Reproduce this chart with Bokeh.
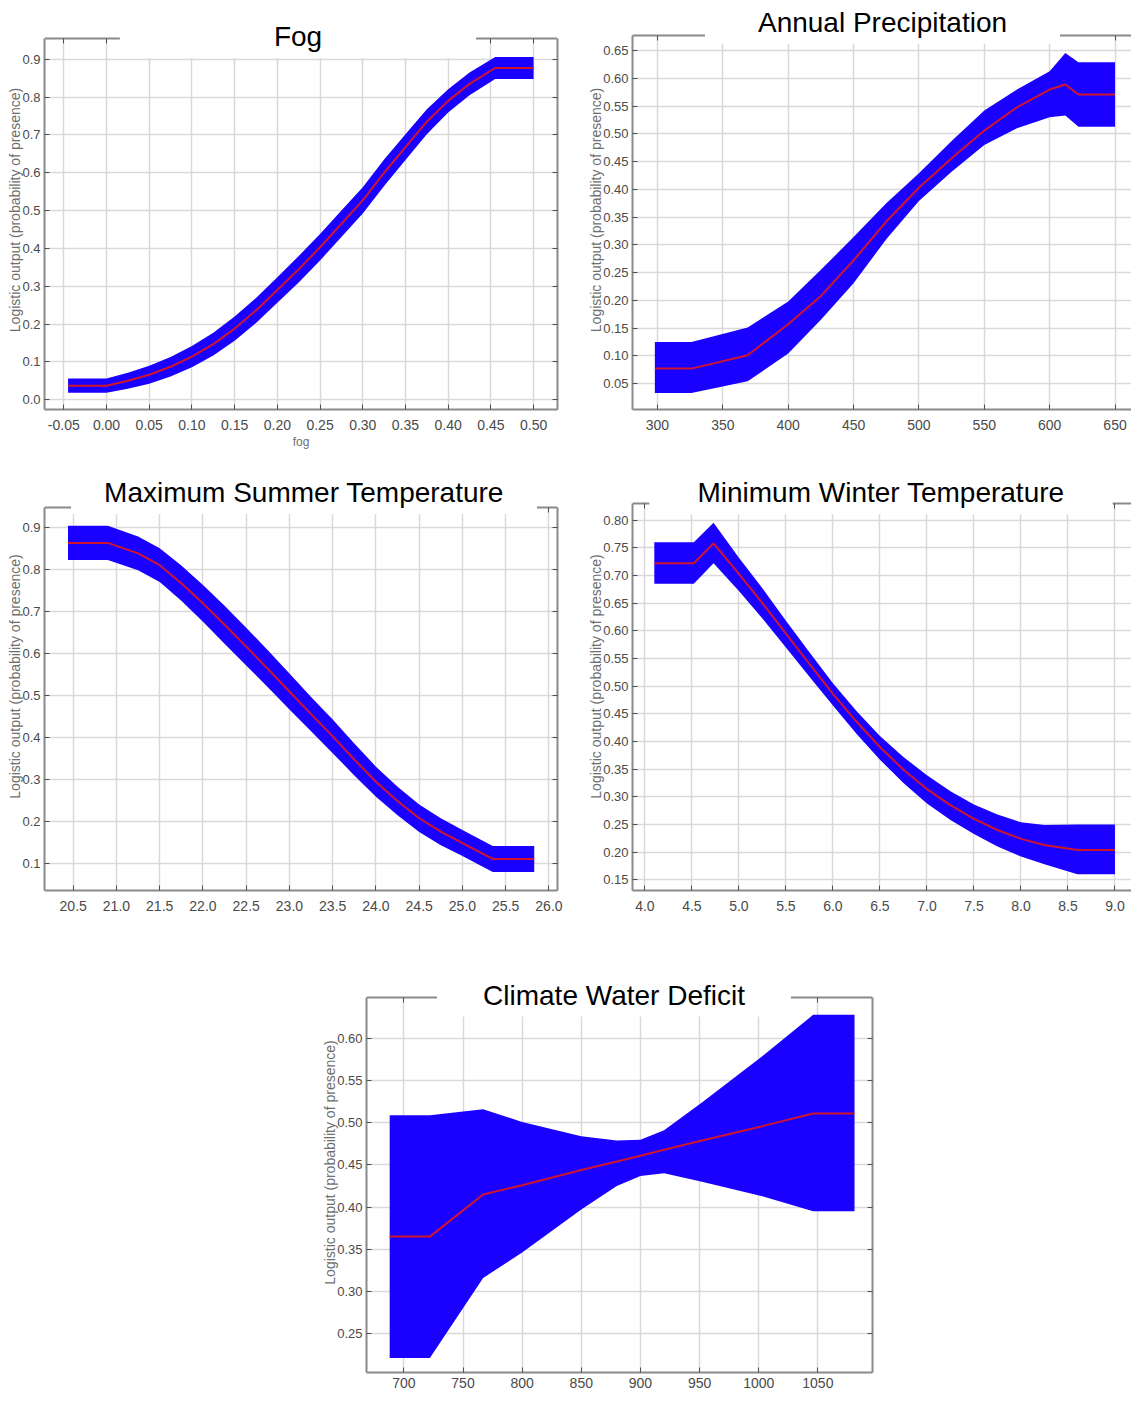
from bokeh.plotting import figure
from bokeh.models import LinearAxis, FixedTicker, CustomJSTickFormatter, Label, Range1d, Spacer
from bokeh.layouts import row, column
from bokeh.embed import file_html
from bokeh.resources import INLINE

# ---------------- data ----------------
fog_x = [-0.045, 0.0, 0.025, 0.05, 0.075, 0.10, 0.125, 0.15, 0.175, 0.20, 0.225,
         0.25, 0.275, 0.30, 0.325, 0.35, 0.375, 0.40, 0.425, 0.455, 0.50]
fog_mean = [0.037, 0.037, 0.050, 0.066, 0.087, 0.114, 0.147, 0.188, 0.236, 0.290, 0.345,
            0.403, 0.465, 0.527, 0.600, 0.668, 0.735, 0.790, 0.835, 0.877, 0.877]
fog_upper = [0.056, 0.056, 0.071, 0.090, 0.113, 0.142, 0.177, 0.220, 0.269, 0.324, 0.380,
             0.438, 0.500, 0.562, 0.635, 0.702, 0.768, 0.821, 0.865, 0.906, 0.906]
fog_lower = [0.018, 0.018, 0.029, 0.042, 0.061, 0.086, 0.117, 0.156, 0.203, 0.256, 0.310,
             0.368, 0.430, 0.492, 0.565, 0.634, 0.702, 0.759, 0.805, 0.848, 0.848]
fog_xticks = [-0.05, 0.0, 0.05, 0.10, 0.15, 0.20, 0.25, 0.30, 0.35, 0.40, 0.45, 0.50]
fog_xlabels = ["-0.05", "0.00", "0.05", "0.10", "0.15", "0.20", "0.25", "0.30", "0.35", "0.40", "0.45", "0.50"]
fog_yticks = [0.0, 0.1, 0.2, 0.3, 0.4, 0.5, 0.6, 0.7, 0.8, 0.9]
fog_ylabels = ["0.0", "0.1", "0.2", "0.3", "0.4", "0.5", "0.6", "0.7", "0.8", "0.9"]

ap_x = [298, 326, 369, 400, 425, 450, 475, 500, 525, 550, 575, 600, 612, 622, 650]
ap_mean = [0.077, 0.077, 0.101, 0.157, 0.208, 0.272, 0.342, 0.403, 0.456, 0.506, 0.548, 0.580, 0.589, 0.571, 0.571]
ap_upper = [0.125, 0.125, 0.151, 0.198, 0.255, 0.314, 0.375, 0.429, 0.487, 0.542, 0.580, 0.613, 0.646, 0.629, 0.629]
ap_lower = [0.033, 0.033, 0.054, 0.104, 0.165, 0.231, 0.310, 0.379, 0.432, 0.480, 0.510, 0.530, 0.533, 0.513, 0.513]
ap_xticks = [300, 350, 400, 450, 500, 550, 600, 650]
ap_xlabels = ["300", "350", "400", "450", "500", "550", "600", "650"]
ap_yticks = [0.05, 0.10, 0.15, 0.20, 0.25, 0.30, 0.35, 0.40, 0.45, 0.50, 0.55, 0.60, 0.65]
ap_ylabels = ["0.05", "0.10", "0.15", "0.20", "0.25", "0.30", "0.35", "0.40", "0.45", "0.50", "0.55", "0.60", "0.65"]

ms_x = [20.44, 20.9, 21.25, 21.5, 21.75, 22.0, 22.25, 22.5, 22.75, 23.0, 23.25, 23.5,
        23.75, 24.0, 24.25, 24.5, 24.75, 25.0, 25.35, 25.83]
ms_mean = [0.863, 0.863, 0.838, 0.810, 0.767, 0.719, 0.668, 0.616, 0.563, 0.509, 0.455, 0.402,
           0.347, 0.294, 0.248, 0.207, 0.175, 0.148, 0.110, 0.110]
ms_upper = [0.904, 0.904, 0.878, 0.850, 0.809, 0.763, 0.713, 0.661, 0.607, 0.552, 0.496, 0.442,
            0.385, 0.330, 0.282, 0.240, 0.207, 0.179, 0.141, 0.141]
ms_lower = [0.822, 0.822, 0.798, 0.770, 0.725, 0.675, 0.623, 0.571, 0.519, 0.466, 0.414, 0.362,
            0.309, 0.258, 0.214, 0.174, 0.143, 0.117, 0.079, 0.079]
ms_xticks = [20.5, 21.0, 21.5, 22.0, 22.5, 23.0, 23.5, 24.0, 24.5, 25.0, 25.5, 26.0]
ms_xlabels = ["20.5", "21.0", "21.5", "22.0", "22.5", "23.0", "23.5", "24.0", "24.5", "25.0", "25.5", "26.0"]
ms_yticks = [0.1, 0.2, 0.3, 0.4, 0.5, 0.6, 0.7, 0.8, 0.9]
ms_ylabels = ["0.1", "0.2", "0.3", "0.4", "0.5", "0.6", "0.7", "0.8", "0.9"]

mw_x = [4.10, 4.52, 4.73, 5.0, 5.25, 5.5, 5.75, 6.0, 6.25, 6.5, 6.75, 7.0, 7.25, 7.5,
        7.75, 8.0, 8.25, 8.6, 9.0]
mw_mean = [0.722, 0.722, 0.758, 0.703, 0.650, 0.595, 0.540, 0.486, 0.436, 0.390, 0.349, 0.314,
           0.285, 0.260, 0.240, 0.224, 0.213, 0.204, 0.204]
mw_upper = [0.760, 0.760, 0.795, 0.732, 0.677, 0.618, 0.561, 0.505, 0.455, 0.410, 0.372, 0.339,
            0.310, 0.286, 0.268, 0.254, 0.249, 0.250, 0.250]
mw_lower = [0.685, 0.685, 0.722, 0.672, 0.622, 0.570, 0.517, 0.465, 0.414, 0.367, 0.325, 0.288,
            0.258, 0.233, 0.210, 0.192, 0.178, 0.160, 0.160]
mw_xticks = [4.0, 4.5, 5.0, 5.5, 6.0, 6.5, 7.0, 7.5, 8.0, 8.5, 9.0]
mw_xlabels = ["4.0", "4.5", "5.0", "5.5", "6.0", "6.5", "7.0", "7.5", "8.0", "8.5", "9.0"]
mw_yticks = [0.15, 0.20, 0.25, 0.30, 0.35, 0.40, 0.45, 0.50, 0.55, 0.60, 0.65, 0.70, 0.75, 0.80]
mw_ylabels = ["0.15", "0.20", "0.25", "0.30", "0.35", "0.40", "0.45", "0.50", "0.55", "0.60",
              "0.65", "0.70", "0.75", "0.80"]

cwd_x = [688, 722, 767, 800, 850, 880, 900, 920, 952, 1003, 1046, 1081]
cwd_mean = [0.365, 0.365, 0.415, 0.426, 0.444, 0.454, 0.461, 0.468, 0.479, 0.496, 0.511, 0.511]
cwd_upper = [0.509, 0.509, 0.516, 0.501, 0.484, 0.479, 0.480, 0.491, 0.524, 0.579, 0.628, 0.628]
cwd_lower = [0.221, 0.221, 0.316, 0.346, 0.397, 0.425, 0.437, 0.440, 0.430, 0.413, 0.395, 0.395]
cwd_xticks = [700, 750, 800, 850, 900, 950, 1000, 1050]
cwd_xlabels = ["700", "750", "800", "850", "900", "950", "1000", "1050"]
cwd_yticks = [0.25, 0.30, 0.35, 0.40, 0.45, 0.50, 0.55, 0.60]
cwd_ylabels = ["0.25", "0.30", "0.35", "0.40", "0.45", "0.50", "0.55", "0.60"]

Y_LABEL = "Logistic output (probability of presence)"

# ---------------- styling ----------------
BAND = "#1a00ff"
LINE = "#d0142c"
AXIS = "#8a8a8a"
GRID = "#d9d9d9"
TICKC = "#505050"
TICK_FONT = "Liberation Sans"
TITLE_FONT = "Liberation Sans"


def fmt(vals, labs):
    return CustomJSTickFormatter(args=dict(vals=vals, labs=labs), code="""
        for (let i = 0; i < vals.length; i++) {
            if (Math.abs(vals[i] - tick) < 1e-9) { return labs[i]; }
        }
        return "";
    """)


def panel(s):
    # page-pixel layout of this panel
    bl = s["fl"] - s["ox"]
    br = s["ox"] + s["w"] - s["fr"]
    bb = s["oy"] + s["h"] - s["fb"]
    bt = s["ft"] - s["oy"]
    y0, y1 = s["yr"]                       # data values at frame bottom / visual top border
    upp = (y1 - y0) / (s["fb"] - s["yb"])  # data units per pixel
    y_end = y1 + (s["yb"] - s["ft"]) * upp
    x0, x1 = s["xr"]

    p = figure(width=s["w"], height=s["h"], title=None,
               x_range=Range1d(x0, x1), y_range=Range1d(y0, y_end),
               output_backend="svg", toolbar_location=None,
               min_border_left=bl, min_border_right=br,
               min_border_top=bt, min_border_bottom=bb)
    p.outline_line_color = None
    p.background_fill_color = "white"
    p.border_fill_color = "white"

    xt = FixedTicker(ticks=s["xticks"])
    yt = FixedTicker(ticks=s["yticks"])

    def style(ax, size):
        ax.axis_line_color = AXIS
        ax.axis_line_width = 2
        ax.major_tick_line_color = TICKC
        ax.major_tick_in = 5
        ax.major_tick_out = 0
        ax.minor_tick_line_color = None
        if size:
            ax.major_label_text_font = TICK_FONT
            ax.major_label_text_font_size = size
            ax.major_label_text_color = "#4a4a4a"
        else:
            ax.major_label_text_color = None
            ax.major_label_text_font_size = "1px"
            ax.major_label_standoff = 0
            ax.axis_label_standoff = 0

    xa = p.xaxis[0]
    xa.ticker = xt
    xa.formatter = fmt(s["xticks"], s["xlabels"])
    style(xa, "14px")
    xa.major_label_standoff = s.get("xstand", 10)
    if s.get("xname"):
        xa.axis_label = s["xname"]
        xa.axis_label_text_font = TITLE_FONT
        xa.axis_label_text_font_size = "12px"
        xa.axis_label_text_font_style = "normal"
        xa.axis_label_text_color = "#6e6e6e"
        xa.axis_label_standoff = 2

    ya = p.yaxis[0]
    ya.ticker = yt
    ya.formatter = fmt(s["yticks"], s["ylabels"])
    style(ya, "13px")
    ya.bounds = (y0, y1)
    ya.major_label_standoff = 4
    ya.axis_label = Y_LABEL
    ya.axis_label_text_font = TITLE_FONT
    ya.axis_label_text_font_size = "14px"
    ya.axis_label_text_font_style = "normal"
    ya.axis_label_text_color = "#6e6e6e"
    ya.axis_label_standoff = -4

    # visual top border of the box, drawn as an unlabeled axis at a fixed height
    top = LinearAxis(ticker=xt, fixed_location=y1)
    style(top, None)
    p.add_layout(top, "above")
    if s.get("right", True):
        ra = LinearAxis(ticker=yt, bounds=(y0, y1))
        style(ra, None)
        p.add_layout(ra, "right")

    p.xgrid.ticker = xt
    p.ygrid.ticker = yt
    p.xgrid.cross_bounds = (y0, y1)
    for g in (p.xgrid, p.ygrid):
        g.grid_line_color = GRID
        g.grid_line_width = 1.5

    p.varea(x=s["x"], y1=s["lower"], y2=s["upper"], fill_color=BAND, fill_alpha=1.0)
    p.line(x=s["x"], y=s["mean"], line_color=LINE, line_width=2)

    # title in a white box that interrupts the top border
    tx = x0 + (s["tcx"] - s["fl"]) / (s["fr"] - s["fl"]) * (x1 - x0)
    ty = y0 + (s["fb"] - s["tby"]) * upp
    pad = s["tpad"]
    p.add_layout(Label(x=tx, y=ty, text=s["title"], text_align="center",
                       text_baseline="alphabetic", text_font=TITLE_FONT,
                       text_font_size="28px", text_color="black",
                       background_fill_color="white", background_fill_alpha=1.0,
                       padding=dict(left=pad, right=pad, top=2, bottom=6)))
    return p


fog = panel(dict(title="Fog", x=fog_x, mean=fog_mean, upper=fog_upper, lower=fog_lower,
                 xticks=fog_xticks, xlabels=fog_xlabels, yticks=fog_yticks, ylabels=fog_ylabels,
                 xr=(-0.0726, 0.528), yr=(-0.026, 0.955),
                 ox=0, oy=8, w=577, h=452, fl=44, fr=557, yb=38, fb=409, ft=10,
                 tcx=297.5, tby=38, tpad=154, xname="fog"))
ap = panel(dict(title="Annual Precipitation", x=ap_x, mean=ap_mean, upper=ap_upper, lower=ap_lower,
                xticks=ap_xticks, xlabels=ap_xlabels, yticks=ap_yticks, ylabels=ap_ylabels,
                xr=(280.9, 662.6), yr=(0.0033, 0.678),
                ox=577, oy=8, w=554, h=452, fl=632, fr=1131, yb=35, fb=415, ft=10,
                tcx=882, tby=24, tpad=53, right=False))
ms = panel(dict(title="Maximum Summer Temperature", x=ms_x, mean=ms_mean, upper=ms_upper, lower=ms_lower,
                xticks=ms_xticks, xlabels=ms_xlabels, yticks=ms_yticks, ylabels=ms_ylabels,
                xr=(20.168, 26.099), yr=(0.0349, 0.9476),
                ox=0, oy=460, w=577, h=490, fl=44, fr=557, yb=507, fb=891, ft=462,
                tcx=303.5, tby=494, tpad=33))
mw = panel(dict(title="Minimum Winter Temperature", x=mw_x, mean=mw_mean, upper=mw_upper, lower=mw_lower,
                xticks=mw_xticks, xlabels=mw_xlabels, yticks=mw_yticks, ylabels=mw_ylabels,
                xr=(3.868, 9.176), yr=(0.1307, 0.830),
                ox=577, oy=460, w=554, h=490, fl=632, fr=1131, yb=503, fb=890, ft=462,
                tcx=880.5, tby=494, tpad=48, right=False))
cwd = panel(dict(title="Climate Water Deficit", x=cwd_x, mean=cwd_mean, upper=cwd_upper, lower=cwd_lower,
                 xticks=cwd_xticks, xlabels=cwd_xlabels, yticks=cwd_yticks, ylabels=cwd_ylabels,
                 xr=(668.4, 1096.2), yr=(0.2038, 0.6486),
                 ox=316, oy=950, w=576, h=444, fl=366, fr=872, yb=997, fb=1372, ft=952,
                 tcx=613.5, tby=996.5, tpad=46, xstand=5))

layout = column(Spacer(width=10, height=8),
                row(fog, ap), row(ms, mw),
                row(Spacer(width=316, height=444), cwd))

with open("out.html", "w") as f:
    f.write(file_html(layout, INLINE))
